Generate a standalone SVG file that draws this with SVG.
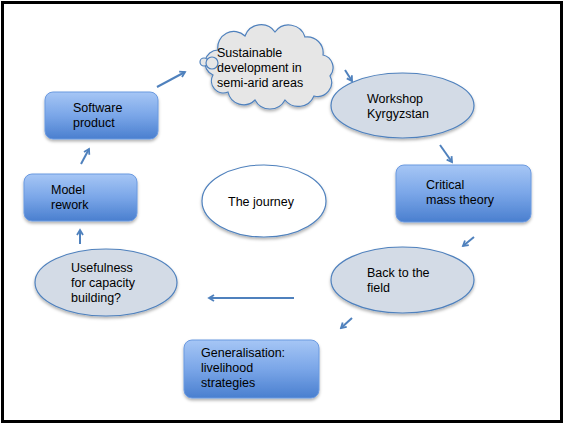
<svg xmlns="http://www.w3.org/2000/svg" width="564" height="424" viewBox="0 0 564 424">
<defs>
<linearGradient id="boxg" x1="0" y1="0" x2="0" y2="1">
<stop offset="0" stop-color="#a6c6f5"/>
<stop offset="0.5" stop-color="#7aa6e8"/>
<stop offset="1" stop-color="#4a7fcf"/>
</linearGradient>
<filter id="sh" x="-10%" y="-10%" width="120%" height="130%">
<feDropShadow dx="0" dy="2" stdDeviation="1.5" flood-color="#000" flood-opacity="0.3"/>
</filter>
<marker id="ah" markerWidth="8" markerHeight="8" refX="6" refY="4" orient="auto" markerUnits="userSpaceOnUse">
<path d="M1,1 L6,4 L1,7" fill="none" stroke="#4f81bd" stroke-width="1.8"/>
</marker>
</defs>
<style>
.t{font-family:"Liberation Sans",Arial,sans-serif;font-size:12.5px;fill:#000}
.box{fill:url(#boxg);stroke:#6b9ae0;stroke-width:1;filter:url(#sh)}
.ell{fill:#d3dbe6;stroke:#4f81bd;stroke-width:1.2;filter:url(#sh)}
.con{stroke:#4f81bd;stroke-width:2;fill:none;marker-end:url(#ah)}
</style>
<rect x="0" y="0" width="564" height="424" fill="#fff"/>
<rect x="2.5" y="2.5" width="559" height="419" fill="none" stroke="#000" stroke-width="3"/>

<g id="connectors">
<line class="con" x1="157" y1="87" x2="185" y2="72"/>
<line class="con" x1="345" y1="70" x2="352" y2="81"/>
<line class="con" x1="440" y1="145" x2="452" y2="162"/>
<line class="con" x1="474" y1="237" x2="463" y2="246"/>
<line class="con" x1="352" y1="318" x2="341" y2="328"/>
<line class="con" x1="294" y1="298" x2="209" y2="298"/>
<line class="con" x1="80" y1="244" x2="80" y2="230"/>
<line class="con" x1="81" y1="164" x2="89" y2="149"/>
</g>

<g id="cloud">
<path d="M218,50 A16,16 0 0 1 245,36 A17,17 0 0 1 275,32 A17,17 0 0 1 305,37 A16,16 0 0 1 323,55 A13,13 0 0 1 330,76 A14,14 0 0 1 314,96 A17,17 0 0 1 285,100 A17,17 0 0 1 255,100 A16,16 0 0 1 228,92 A12,12 0 0 1 213,75 A13,13 0 0 1 218,50 Z" fill="#e6e6e6" stroke="#4f81bd" stroke-width="1.2" filter="url(#sh)"/>
<circle cx="204" cy="62" r="4" fill="#e6e6e6" stroke="#4f81bd" stroke-width="1.2"/>
<circle cx="212" cy="63" r="6" fill="#e6e6e6" stroke="#4f81bd" stroke-width="1.2"/>
<text class="t" x="217" y="57">Sustainable</text>
<text class="t" x="217" y="72">development in</text>
<text class="t" x="217" y="87">semi-arid areas</text>
</g>

<g id="software">
<rect class="box" x="45" y="92" width="113" height="47" rx="8"/>
<text class="t" x="73" y="112">Software</text>
<text class="t" x="73" y="127">product</text>
</g>

<g id="model">
<rect class="box" x="24" y="174" width="113" height="47" rx="8"/>
<text class="t" x="51" y="194">Model</text>
<text class="t" x="51" y="209">rework</text>
</g>

<g id="workshop">
<ellipse class="ell" cx="402.5" cy="105.5" rx="71.5" ry="32.5"/>
<text class="t" x="367" y="103">Workshop</text>
<text class="t" x="367" y="118">Kyrgyzstan</text>
</g>

<g id="critical">
<rect class="box" x="396" y="165" width="135" height="57" rx="8"/>
<text class="t" x="426" y="189">Critical</text>
<text class="t" x="426" y="204">mass theory</text>
</g>

<g id="journey">
<ellipse cx="264" cy="201" rx="62" ry="36" fill="#fff" stroke="#4f81bd" stroke-width="1.2" filter="url(#sh)"/>
<text class="t" x="228" y="206">The journey</text>
</g>

<g id="usefulness">
<ellipse class="ell" cx="106" cy="282.5" rx="71" ry="33.5"/>
<text class="t" x="71" y="272">Usefulness</text>
<text class="t" x="71" y="287">for capacity</text>
<text class="t" x="71" y="302">building?</text>
</g>

<g id="back">
<ellipse class="ell" cx="402.5" cy="280" rx="71.5" ry="33"/>
<text class="t" x="367" y="277">Back to the</text>
<text class="t" x="367" y="292">field</text>
</g>

<g id="generalisation">
<rect class="box" x="184" y="340" width="135" height="58" rx="8"/>
<text class="t" x="201" y="357">Generalisation:</text>
<text class="t" x="201" y="372">livelihood</text>
<text class="t" x="201" y="387">strategies</text>
</g>
</svg>
